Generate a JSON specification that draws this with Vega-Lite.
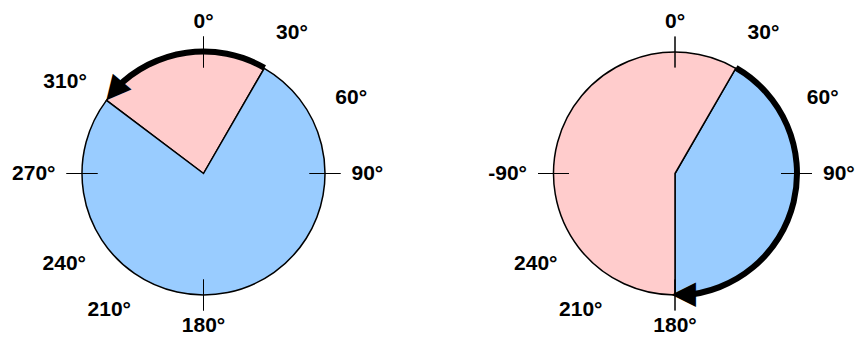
{
  "$schema": "https://vega.github.io/schema/vega-lite/v6.json",
  "padding": {"left": 0, "right": 0, "top": 9, "bottom": 0},
  "spacing": 80.5,
  "config": {"view": {"stroke": null}},
  "datasets": {
    "sectors": [
      {"panel": "L", "region": "A", "from": -53, "to": 30},
      {"panel": "L", "region": "B", "from": 30, "to": 307},
      {"panel": "R", "region": "B", "from": 30, "to": 180},
      {"panel": "R", "region": "A", "from": 180, "to": 390}
    ],
    "ticks": [
      {"panel": "L", "at": 0}, {"panel": "L", "at": 90}, {"panel": "L", "at": 180}, {"panel": "L", "at": 270},
      {"panel": "R", "at": 0}, {"panel": "R", "at": 90}, {"panel": "R", "at": 180}, {"panel": "R", "at": 270}
    ],
    "arrows": [
      {"panel": "L", "from": 30, "to": -46},
      {"panel": "R", "from": 30, "to": 177}
    ],
    "heads": [
      {"panel": "L", "at": -48},
      {"panel": "R", "at": 176.5}
    ],
    "labels": [
      {"panel": "L", "text": "0°", "at": 0, "place": "v"},
      {"panel": "L", "text": "180°", "at": 180, "place": "v"},
      {"panel": "L", "text": "90°", "at": 90, "place": "r"},
      {"panel": "L", "text": "270°", "at": 270, "place": "l"},
      {"panel": "L", "text": "30°", "at": 32.2, "place": "d"},
      {"panel": "L", "text": "60°", "at": 62.8, "place": "d"},
      {"panel": "L", "text": "210°", "at": 214.6, "place": "d"},
      {"panel": "L", "text": "240°", "at": 237, "place": "d"},
      {"panel": "L", "text": "310°", "at": 303.5, "place": "d"},
      {"panel": "R", "text": "0°", "at": 0, "place": "v"},
      {"panel": "R", "text": "180°", "at": 180, "place": "v"},
      {"panel": "R", "text": "90°", "at": 90, "place": "r"},
      {"panel": "R", "text": "-90°", "at": 270, "place": "l"},
      {"panel": "R", "text": "30°", "at": 32.2, "place": "d"},
      {"panel": "R", "text": "60°", "at": 62.8, "place": "d"},
      {"panel": "R", "text": "210°", "at": 214.6, "place": "d"},
      {"panel": "R", "text": "240°", "at": 237, "place": "d"}
    ]
  },
  "hconcat": [
    {
      "width": 407,
      "height": 329,
      "layer": [
        {
          "data": {"name": "sectors"},
          "transform": [{"filter": "datum.panel === 'L'"}],
          "mark": {"type": "arc", "outerRadius": 121.5, "stroke": "black", "strokeWidth": 1.5},
          "encoding": {
            "theta": {"field": "from", "type": "quantitative", "stack": null, "scale": {"type": "linear", "domain": [0, 360], "range": [0, 6.283185307179586], "nice": false}},
            "theta2": {"field": "to"},
            "fill": {"field": "region", "type": "nominal", "scale": {"domain": ["A", "B"], "range": ["#FFCCCC", "#99CCFF"]}, "legend": null}
          }
        },
        {
          "data": {"name": "ticks"},
          "transform": [{"filter": "datum.panel === 'L'"}],
          "mark": {"type": "arc", "innerRadius": 106, "outerRadius": 137, "filled": false, "color": "black", "strokeWidth": 1},
          "encoding": {
            "theta": {"field": "at", "type": "quantitative", "stack": null, "scale": {"type": "linear", "domain": [0, 360], "range": [0, 6.283185307179586], "nice": false}},
            "theta2": {"field": "at"}
          }
        },
        {
          "data": {"name": "arrows"},
          "transform": [{"filter": "datum.panel === 'L'"}],
          "mark": {"type": "arc", "innerRadius": 119, "outerRadius": 125, "fill": "black"},
          "encoding": {
            "theta": {"field": "from", "type": "quantitative", "stack": null, "scale": {"type": "linear", "domain": [0, 360], "range": [0, 6.283185307179586], "nice": false}},
            "theta2": {"field": "to"}
          }
        },
        {
          "data": {"name": "heads"},
          "transform": [{"filter": "datum.panel === 'L'"}],
          "mark": {"type": "text", "text": "▲", "font": "DejaVu Sans", "fontSize": 32, "radius": 121.5, "angle": 220, "align": "center", "baseline": "middle", "color": "black"},
          "encoding": {
            "theta": {"field": "at", "type": "quantitative", "stack": null, "scale": {"type": "linear", "domain": [0, 360], "range": [0, 6.283185307179586], "nice": false}}
          }
        },
        {
          "data": {"name": "labels"},
          "transform": [{"filter": "datum.panel === 'L' && datum.place === 'v'"}],
          "mark": {"type": "text", "font": "Liberation Sans", "fontWeight": "bold", "fontSize": 21, "radius": 152, "align": "center", "baseline": "middle", "color": "black"},
          "encoding": {
            "theta": {"field": "at", "type": "quantitative", "stack": null, "scale": {"type": "linear", "domain": [0, 360], "range": [0, 6.283185307179586], "nice": false}},
            "text": {"field": "text"}
          }
        },
        {
          "data": {"name": "labels"},
          "transform": [{"filter": "datum.panel === 'L' && datum.place === 'd'"}],
          "mark": {"type": "text", "font": "Liberation Sans", "fontWeight": "bold", "fontSize": 21, "radius": 166, "align": "center", "baseline": "middle", "color": "black"},
          "encoding": {
            "theta": {"field": "at", "type": "quantitative", "stack": null, "scale": {"type": "linear", "domain": [0, 360], "range": [0, 6.283185307179586], "nice": false}},
            "text": {"field": "text"}
          }
        },
        {
          "data": {"name": "labels"},
          "transform": [{"filter": "datum.panel === 'L' && datum.place === 'r'"}],
          "mark": {"type": "text", "font": "Liberation Sans", "fontWeight": "bold", "fontSize": 21, "radius": 148, "align": "left", "baseline": "middle", "color": "black"},
          "encoding": {
            "theta": {"field": "at", "type": "quantitative", "stack": null, "scale": {"type": "linear", "domain": [0, 360], "range": [0, 6.283185307179586], "nice": false}},
            "text": {"field": "text"}
          }
        },
        {
          "data": {"name": "labels"},
          "transform": [{"filter": "datum.panel === 'L' && datum.place === 'l'"}],
          "mark": {"type": "text", "font": "Liberation Sans", "fontWeight": "bold", "fontSize": 21, "radius": 148, "align": "right", "baseline": "middle", "color": "black"},
          "encoding": {
            "theta": {"field": "at", "type": "quantitative", "stack": null, "scale": {"type": "linear", "domain": [0, 360], "range": [0, 6.283185307179586], "nice": false}},
            "text": {"field": "text"}
          }
        }
      ]
    },
    {
      "width": 363,
      "height": 329,
      "layer": [
        {
          "data": {"name": "sectors"},
          "transform": [{"filter": "datum.panel === 'R'"}],
          "mark": {"type": "arc", "outerRadius": 121.5, "stroke": "black", "strokeWidth": 1.5},
          "encoding": {
            "theta": {"field": "from", "type": "quantitative", "stack": null, "scale": {"type": "linear", "domain": [0, 360], "range": [0, 6.283185307179586], "nice": false}},
            "theta2": {"field": "to"},
            "fill": {"field": "region", "type": "nominal", "scale": {"domain": ["A", "B"], "range": ["#FFCCCC", "#99CCFF"]}, "legend": null}
          }
        },
        {
          "data": {"name": "ticks"},
          "transform": [{"filter": "datum.panel === 'R'"}],
          "mark": {"type": "arc", "innerRadius": 106, "outerRadius": 137, "filled": false, "color": "black", "strokeWidth": 1},
          "encoding": {
            "theta": {"field": "at", "type": "quantitative", "stack": null, "scale": {"type": "linear", "domain": [0, 360], "range": [0, 6.283185307179586], "nice": false}},
            "theta2": {"field": "at"}
          }
        },
        {
          "data": {"name": "arrows"},
          "transform": [{"filter": "datum.panel === 'R'"}],
          "mark": {"type": "arc", "innerRadius": 119, "outerRadius": 125, "fill": "black"},
          "encoding": {
            "theta": {"field": "from", "type": "quantitative", "stack": null, "scale": {"type": "linear", "domain": [0, 360], "range": [0, 6.283185307179586], "nice": false}},
            "theta2": {"field": "to"}
          }
        },
        {
          "data": {"name": "heads"},
          "transform": [{"filter": "datum.panel === 'R'"}],
          "mark": {"type": "text", "text": "▲", "font": "DejaVu Sans", "fontSize": 32, "radius": 121.5, "angle": 270, "align": "center", "baseline": "middle", "color": "black"},
          "encoding": {
            "theta": {"field": "at", "type": "quantitative", "stack": null, "scale": {"type": "linear", "domain": [0, 360], "range": [0, 6.283185307179586], "nice": false}}
          }
        },
        {
          "data": {"name": "labels"},
          "transform": [{"filter": "datum.panel === 'R' && datum.place === 'v'"}],
          "mark": {"type": "text", "font": "Liberation Sans", "fontWeight": "bold", "fontSize": 21, "radius": 152, "align": "center", "baseline": "middle", "color": "black"},
          "encoding": {
            "theta": {"field": "at", "type": "quantitative", "stack": null, "scale": {"type": "linear", "domain": [0, 360], "range": [0, 6.283185307179586], "nice": false}},
            "text": {"field": "text"}
          }
        },
        {
          "data": {"name": "labels"},
          "transform": [{"filter": "datum.panel === 'R' && datum.place === 'd'"}],
          "mark": {"type": "text", "font": "Liberation Sans", "fontWeight": "bold", "fontSize": 21, "radius": 166, "align": "center", "baseline": "middle", "color": "black"},
          "encoding": {
            "theta": {"field": "at", "type": "quantitative", "stack": null, "scale": {"type": "linear", "domain": [0, 360], "range": [0, 6.283185307179586], "nice": false}},
            "text": {"field": "text"}
          }
        },
        {
          "data": {"name": "labels"},
          "transform": [{"filter": "datum.panel === 'R' && datum.place === 'r'"}],
          "mark": {"type": "text", "font": "Liberation Sans", "fontWeight": "bold", "fontSize": 21, "radius": 148, "align": "left", "baseline": "middle", "color": "black"},
          "encoding": {
            "theta": {"field": "at", "type": "quantitative", "stack": null, "scale": {"type": "linear", "domain": [0, 360], "range": [0, 6.283185307179586], "nice": false}},
            "text": {"field": "text"}
          }
        },
        {
          "data": {"name": "labels"},
          "transform": [{"filter": "datum.panel === 'R' && datum.place === 'l'"}],
          "mark": {"type": "text", "font": "Liberation Sans", "fontWeight": "bold", "fontSize": 21, "radius": 148, "align": "right", "baseline": "middle", "color": "black"},
          "encoding": {
            "theta": {"field": "at", "type": "quantitative", "stack": null, "scale": {"type": "linear", "domain": [0, 360], "range": [0, 6.283185307179586], "nice": false}},
            "text": {"field": "text"}
          }
        }
      ]
    }
  ]
}
